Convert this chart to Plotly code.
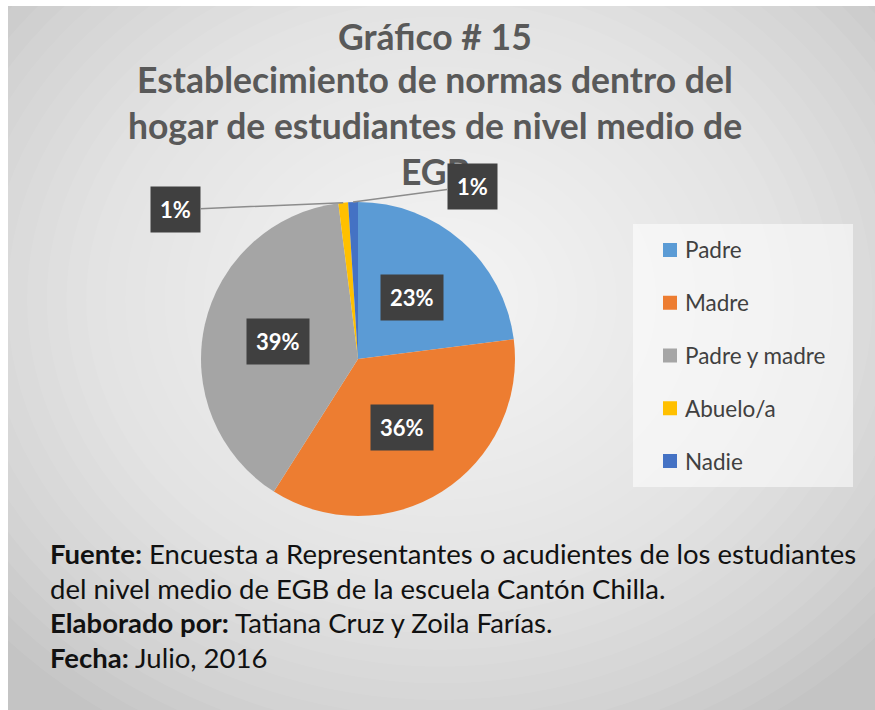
import math
import plotly.graph_objects as go

# ---- data ----
categories = ["Padre", "Madre", "Padre y madre", "Abuelo/a", "Nadie"]
values = [23, 36, 39, 1, 1]
label_text = ["23%", "36%", "39%", "1%", "1%"]
colors = ["#5B9BD5", "#ED7D31", "#A5A5A5", "#FFC000", "#4472C4"]

title_lines = [
    "Gráfico # 15",
    "Establecimiento de normas dentro del",
    "hogar de estudiantes de nivel medio de",
    "EGB",
]
footer_lines = [
    "<b>Fuente:</b> Encuesta a Representantes o acudientes de los estudiantes",
    "del nivel medio de EGB de la escuela Cantón Chilla.",
    "<b>Elaborado por:</b> Tatiana Cruz y Zoila Farías.",
    "<b>Fecha:</b> Julio, 2016",
]

W, H = 875, 710
FONT = "Lato"


def px(x):
    return x / W


def py(y):
    return 1 - y / H


# pie geometry (window pixels)
cx, cy, r = 358, 359, 157

fig = go.Figure()
fig.add_trace(go.Pie(
    labels=categories,
    values=values,
    sort=False,
    direction="clockwise",
    rotation=0,
    marker=dict(colors=colors, line=dict(width=0)),
    textinfo="none",
    hoverinfo="label+percent",
    showlegend=False,
    domain=dict(x=[px(cx - r), px(cx + r)], y=[py(cy + r), py(cy - r)]),
))

shapes = []
# frame background
shapes.append(dict(type="rect", xref="paper", yref="paper",
                   x0=px(8), x1=1, y0=0, y1=py(6),
                   fillcolor="#c4c4c4", line=dict(width=0), layer="below"))
# radial-ish gradient
gx, gy = 440, 300
n = 30
for i in range(n):
    f = 1 - i / n
    rx, ry = 590 * f, 500 * f
    shapes.append(dict(type="circle", xref="paper", yref="paper",
                       x0=px(gx - rx), x1=px(gx + rx), y0=py(gy + ry), y1=py(gy - ry),
                       fillcolor="rgba(255,255,255,0.065)", line=dict(width=0), layer="below"))
# legend box
shapes.append(dict(type="rect", xref="paper", yref="paper",
                   x0=px(633), x1=px(853), y0=py(487), y1=py(224),
                   fillcolor="rgba(255,255,255,0.55)", line=dict(width=0), layer="below"))

annotations = []
# title
title_y = [36, 80, 126, 171]
for t, yy in zip(title_lines, title_y):
    annotations.append(dict(text=f"<b>{t}</b>", xref="paper", yref="paper",
                            x=px(435), y=py(yy), showarrow=False,
                            xanchor="center", yanchor="middle",
                            font=dict(family=FONT, size=35.5, color="#595959")))

# legend entries
leg_top, leg_step = 250, 52.75
for i, (c, lab) in enumerate(zip(colors, categories)):
    yy = leg_top + i * leg_step
    shapes.append(dict(type="rect", xref="paper", yref="paper",
                       x0=px(663), x1=px(677), y0=py(yy + 7), y1=py(yy - 7),
                       fillcolor=c, line=dict(width=0)))
    annotations.append(dict(text=lab, xref="paper", yref="paper",
                            x=px(683), y=py(yy), showarrow=False,
                            xanchor="left", yanchor="middle",
                            font=dict(family=FONT, size=22.5, color="#404040")))

# data labels
total = sum(values)
cum = 0
small_offsets = {3: (-168, 7), 4: (119, -16)}
for i, (v, t) in enumerate(zip(values, label_text)):
    mid = (cum + v / 2) / total * 2 * math.pi
    cum += v
    common = dict(text=f"<b>{t}</b>", xref="paper", yref="paper",
                  bgcolor="#404040", borderpad=9,
                  font=dict(family=FONT, size=22, color="white"))
    if i in small_offsets:
        ex = cx + r * math.sin(mid)
        ey = cy - r * math.cos(mid)
        ax, ay = small_offsets[i]
        annotations.append(dict(x=px(ex), y=py(ey), showarrow=True, arrowhead=0,
                                arrowwidth=1.5, arrowcolor="#8c8c8c",
                                ax=ax, ay=ay, standoff=0, **common))
    else:
        lx = cx + 0.52 * r * math.sin(mid)
        ly = cy - 0.52 * r * math.cos(mid)
        annotations.append(dict(x=px(lx), y=py(ly), showarrow=False,
                                xanchor="center", yanchor="middle", **common))

# footer
foot_y = [553, 588, 622, 657]
for t, yy in zip(footer_lines, foot_y):
    annotations.append(dict(text=t, xref="paper", yref="paper",
                            x=px(48), y=py(yy), showarrow=False,
                            xanchor="left", yanchor="middle",
                            font=dict(family=FONT, size=27.5, color="#111111")))

fig.update_layout(
    width=W, height=H,
    margin=dict(l=0, r=0, t=0, b=0),
    paper_bgcolor="white",
    plot_bgcolor="white",
    shapes=shapes,
    annotations=annotations,
    showlegend=False,
)

fig.write_html(
    "out.html",
    config={"displayModeBar": False},
    post_script=(
        "document.body.style.margin='0';"
        "document.documentElement.style.overflow='hidden';"
        "document.body.style.overflow='hidden';"
    ),
)
